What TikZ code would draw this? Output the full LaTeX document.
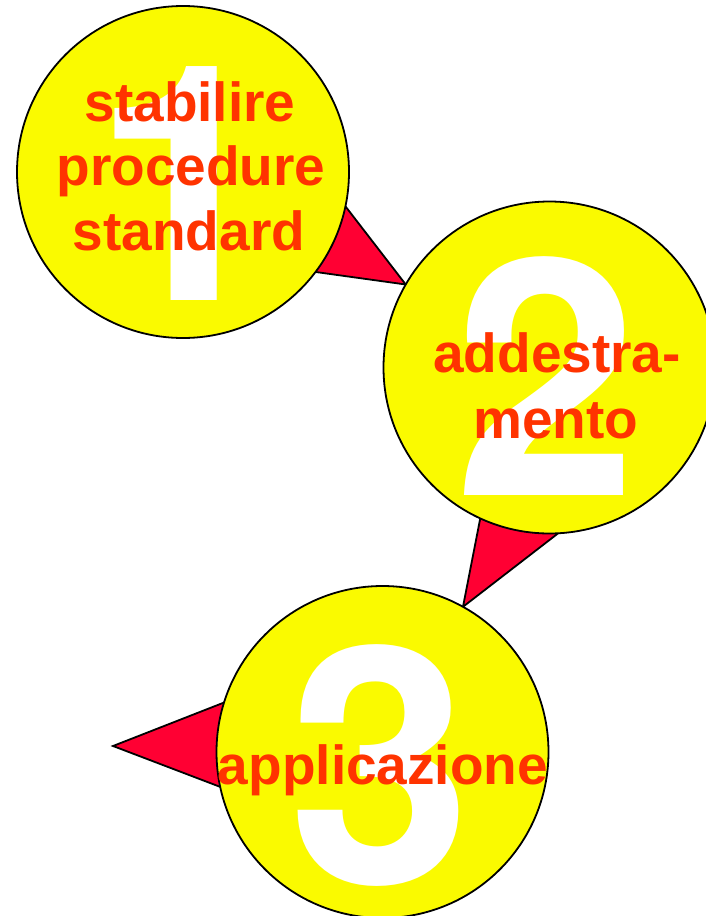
\documentclass[tikz,border=0pt]{standalone}
\usepackage{fontspec}
\setmainfont{Liberation Sans}
\newfontfamily\digitfont{TeX Gyre Heros}
\definecolor{discyellow}{RGB}{250,250,0}
\definecolor{wordred}{RGB}{255,51,0}
\definecolor{pointerred}{RGB}{255,0,51}
\tikzset{
  disc/.style={circle, minimum size=332pt, inner sep=0pt, fill=discyellow, draw=black, line width=1.8pt},
  pointer/.style={fill=pointerred, draw=black, line width=1.8pt, line join=miter},
  bignum/.style={anchor=base, inner sep=0pt, text=white, font=\digitfont\fontsize{330}{330}\selectfont\bfseries},
  word/.style={anchor=base, inner sep=0pt, text=wordred, font=\fontsize{55}{65}\selectfont\bfseries}
}
\begin{document}
\begin{tikzpicture}[x=1pt,y=-1pt]
\useasboundingbox (0,0) rectangle (705,916);
% circle centres (named coordinates)
\coordinate (o1) at (183,172);
\coordinate (o2) at (549.5,367.5);
\coordinate (o3) at (382.5,752);
% pointer triangles (behind the discs)
\path (o2) ++(210:166) coordinate (tip1);
\coordinate (b1a) at (329,185);
\coordinate (b1b) at (287,268);
\draw[pointer] (b1a) -- (tip1) -- (b1b) -- cycle;
\path (o3) ++(-61:166) coordinate (tip2);
\coordinate (b2a) at (485,494);
\coordinate (b2b) at (587,511);
\draw[pointer] (b2a) -- (tip2) -- (b2b) -- cycle;
\coordinate (tip3) at (113,746);
\coordinate (b3a) at (256,690);
\coordinate (b3b) at (252,799);
\draw[pointer] (b3a) -- (tip3) -- (b3b) -- cycle;
% discs
\node[disc] (c1) at (o1) {};
\node[disc] (c2) at (o2) {};
\node[disc] (c3) at (o3) {};
% big numbers
\node[bignum] (n1) at (184,300) {1};
\node[bignum] (n2) at (546,495) {2};
\node[bignum] (n3) at (380,883) {3};
% texts
\node[word] (t1a) at (190,121) {stabilire};
\node[word] (t1b) at (191,185) {procedure};
\node[word] (t1c) at (189,250) {standard};
\node[word] (t2a) at (557,372) {addestra-};
\node[word] (t2b) at (556,438) {mento};
\node[word] (t3) at (383,784) {applicazione};
\end{tikzpicture}
\end{document}
